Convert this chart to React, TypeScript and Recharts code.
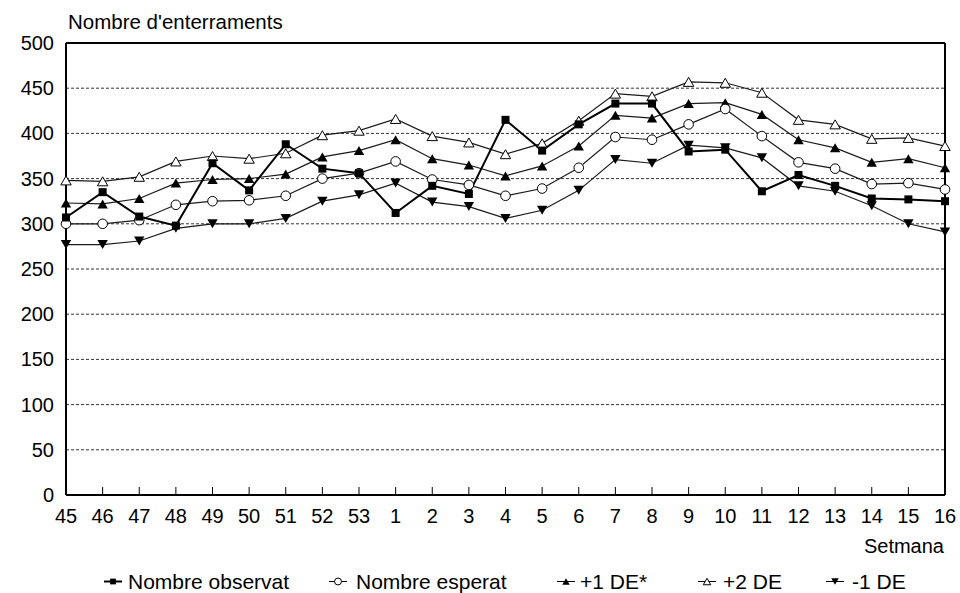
import { LineChart, Line, XAxis, YAxis, CartesianGrid, ReferenceLine } from 'recharts';

document.body.style.margin = '0';

// setmanes epidemiològiques (de la 45 a la 16 de l'any següent)
const weeks = ['45', '46', '47', '48', '49', '50', '51', '52', '53', '1', '2', '3', '4', '5', '6', '7', '8', '9', '10', '11', '12', '13', '14', '15', '16'];

const observed = [307, 335, 308, 298, 367, 337, 388, 361, 356, 312, 342, 333, 415, 381, 410, 433, 433, 380, 382, 336, 354, 342, 328, 327, 325];
const expected = [300, 300, 304, 321, 325, 326, 331, 350, 356, 369, 349, 343, 331, 339, 362, 396, 393, 410, 427, 397, 368, 361, 344, 345, 338];
const plus1 = [323, 322, 328, 345, 349, 350, 355, 374, 381, 393, 372, 365, 353, 364, 386, 420, 417, 433, 434, 421, 393, 384, 368, 372, 362];
const plus2 = [348, 347, 352, 369, 375, 372, 378, 398, 403, 416, 397, 390, 377, 389, 414, 444, 441, 457, 456, 445, 415, 410, 394, 395, 386];
const minus1 = [277, 277, 281, 295, 300, 300, 306, 325, 332, 345, 324, 319, 306, 315, 337, 371, 367, 387, 384, 373, 342, 336, 320, 300, 291];

const yTicks = [0, 50, 100, 150, 200, 250, 300, 350, 400, 450, 500];

const seriesNames = ['Nombre observat', 'Nombre esperat', '+1 DE*', '+2 DE', '-1 DE'];

const chartData = weeks.map((week, i) => ({
  week,
  observat: observed[i],
  esperat: expected[i],
  plus1: plus1[i],
  plus2: plus2[i],
  minus1: minus1[i],
}));

const FONT = '"Liberation Sans", Arial, Helvetica, sans-serif';

function marker(kind: string, cx: number, cy: number, s = 1, key?: string | number) {
  if (cx == null || cy == null) return null;
  if (kind === 'square') {
    const h = 4 * s;
    return <rect key={key} x={cx - h} y={cy - h} width={2 * h} height={2 * h} fill="#000" />;
  }
  if (kind === 'circle') {
    return <circle key={key} cx={cx} cy={cy} r={4.8 * s} fill="#fff" stroke="#000" strokeWidth={1} />;
  }
  const w = 5.2 * s;
  const h = 4.5 * s;
  if (kind === 'down') {
    return <path key={key} d={`M${cx - w},${cy - h}L${cx + w},${cy - h}L${cx},${cy + h}Z`} fill="#000" />;
  }
  const open = kind === 'upOpen';
  return (
    <path
      key={key}
      d={`M${cx},${cy - h}L${cx + w},${cy + h}L${cx - w},${cy + h}Z`}
      fill={open ? '#fff' : '#000'}
      stroke={open ? '#000' : 'none'}
      strokeWidth={1}
    />
  );
}

const dotOf = (kind: string) => (p: any) => marker(kind, p.cx, p.cy, 1, p.index);

const XTick = (props: any) => (
  <text x={props.x} y={props.y} textAnchor="middle" fontFamily={FONT} fontSize={20} fill="#000">
    {props.payload.value}
  </text>
);

const YTick = (props: any) => (
  <text x={props.x} y={props.y + 7} textAnchor="end" fontFamily={FONT} fontSize={20} fill="#000">
    {props.payload.value}
  </text>
);

const legendLayout = [
  { kind: 'square', cx: 113, tx: 128, width: 2 },
  { kind: 'circle', cx: 338, tx: 356, width: 1 },
  { kind: 'up', cx: 566, tx: 580, width: 1 },
  { kind: 'upOpen', cx: 707, tx: 723, width: 1 },
  { kind: 'down', cx: 835, tx: 852, width: 1 },
];

export default function App() {
  const thin = '#1a1a1a';
  return (
    <div style={{ position: 'relative', width: 960, height: 593, background: '#fff' }}>
      <LineChart width={960} height={593} data={chartData} margin={{ top: 43, right: 15, bottom: 68, left: 1 }}>
        <CartesianGrid vertical={false} stroke="#333" strokeDasharray="3 2" strokeWidth={1} />
        <XAxis
          dataKey="week"
          interval={0}
          height={30}
          tickSize={-8}
          tickMargin={36}
          tickLine={{ stroke: '#000', strokeWidth: 1 }}
          axisLine={{ stroke: '#000', strokeWidth: 2 }}
          tick={XTick}
        />
        <YAxis
          domain={[0, 500]}
          ticks={yTicks}
          width={65}
          tickLine={false}
          tickSize={6}
          tickMargin={6}
          axisLine={{ stroke: '#000', strokeWidth: 2 }}
          tick={YTick}
        />
        <ReferenceLine y={500} stroke="#000" strokeWidth={2} />
        <ReferenceLine x="16" stroke="#000" strokeWidth={2} />
        <Line dataKey="plus2" stroke={thin} strokeWidth={1.2} dot={dotOf('upOpen')} activeDot={false} isAnimationActive={false} />
        <Line dataKey="plus1" stroke={thin} strokeWidth={1.2} dot={dotOf('up')} activeDot={false} isAnimationActive={false} />
        <Line dataKey="esperat" stroke={thin} strokeWidth={1.2} dot={dotOf('circle')} activeDot={false} isAnimationActive={false} />
        <Line dataKey="minus1" stroke={thin} strokeWidth={1.2} dot={dotOf('down')} activeDot={false} isAnimationActive={false} />
        <Line dataKey="observat" stroke="#000" strokeWidth={2} dot={dotOf('square')} activeDot={false} isAnimationActive={false} />
      </LineChart>
      <svg width={960} height={593} style={{ position: 'absolute', left: 0, top: 0, pointerEvents: 'none' }}>
        <text x={68} y={28.5} fontFamily={FONT} fontSize={20.5} fill="#000">Nombre d'enterraments</text>
        <text x={944} y={553} textAnchor="end" fontFamily={FONT} fontSize={20} fill="#000">Setmana</text>
        {legendLayout.map((item, i) => (
          <g key={item.kind}>
            <line x1={item.cx - 9} x2={item.cx + 9} y1={581.5} y2={581.5} stroke="#000" strokeWidth={item.width} />
            {marker(item.kind, item.cx, 581.5, 0.72)}
            <text x={item.tx} y={589} fontFamily={FONT} fontSize={21} fill="#000">{seriesNames[i]}</text>
          </g>
        ))}
      </svg>
    </div>
  );
}
